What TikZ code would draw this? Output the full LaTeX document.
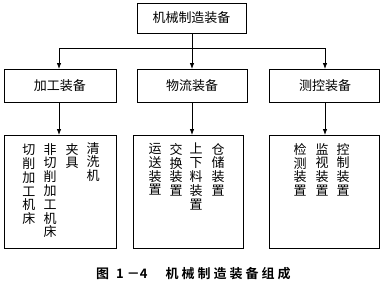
\documentclass[tikz,border=0pt]{standalone}
\usepackage{fontspec}
\newfontfamily\cjk{Noto Sans CJK SC}
\newfontfamily\cjkb{Noto Sans CJK SC Bold}
\usetikzlibrary{arrows.meta}
\newcommand{\ck}{\kern3pt}
\begin{document}
\begin{tikzpicture}[x=1pt,y=-1pt,
  box/.style={draw,line width=0.9pt,inner sep=0pt},
  lbl/.style={font=\cjk\fontsize{13}{14}\selectfont},
  vt/.style={anchor=north,inner sep=0pt,align=center,font=\cjk\fontsize{13}{13.8}\selectfont},
  arr/.style={line width=0.8pt,-{Latex[length=6pt,width=4.5pt]}},
  ln/.style={line width=0.8pt}]
\useasboundingbox (0,0) rectangle (381,287);
% top
\draw[box] (137,3) rectangle (246,33);
\node[lbl] (top) at (191.5,18) {机械制造装备};
\coordinate (tb) at (192,33);
% level 2
\draw[box] (4,69) rectangle (116,102);
\draw[box] (137,69) rectangle (247,102);
\draw[box] (269,69) rectangle (379,102);
\node[lbl] (a) at (60,86) {加工装备};
\node[lbl] (b) at (192,86) {物流装备};
\node[lbl] (c) at (325,86) {测控装备};
\coordinate (a2t) at (59,69);
\coordinate (b2t) at (192,69);
\coordinate (c2t) at (325,69);
\coordinate (a2b) at (59,102);
\coordinate (b2b) at (192,102);
\coordinate (c2b) at (325,102);
% level 3
\draw[box] (4,135) rectangle (116,248);
\draw[box] (133,135) rectangle (243,248);
\draw[box] (269,135) rectangle (379,248);
\coordinate (a3t) at (59,135);
\coordinate (b3t) at (192,135);
\coordinate (c3t) at (325,135);
% connectors
\coordinate (hl) at (59,48);
\coordinate (hr) at (325,48);
\draw[ln] (hl) -- (hr);
\draw[arr] (tb) -- (b2t);
\draw[arr] (hl) -- (a2t);
\draw[arr] (hr) -- (c2t);
\draw[arr] (a2b) -- (a3t);
\draw[arr] (b2b) -- (b3t);
\draw[arr] (c2b) -- (c3t);
% column texts
\node[vt] (a1) at (29,144) {切\\削\\加\\工\\机\\床};
\node[vt] (a2) at (50,143) {非\\切\\削\\加\\工\\机\\床};
\node[vt] (a3) at (72,143) {夹\\具};
\node[vt] (a4) at (93,142) {清\\洗\\机};
\node[vt] (b1) at (155,143) {运\\送\\装\\置};
\node[vt] (b2) at (176,143) {交\\换\\装\\置};
\node[vt] (b3) at (196,143) {上\\下\\料\\装\\置};
\node[vt] (b4) at (218,143) {仓\\储\\装\\置};
\node[vt] (c1) at (300,143) {检\\测\\装\\置};
\node[vt] (c2) at (322,143) {监\\视\\装\\置};
\node[vt] (c3) at (343,143) {控\\制\\装\\置};
% caption
\node[anchor=west,inner sep=0pt,font=\cjkb\fontsize{13}{14}\selectfont] (cap) at (96,274)
  {图\kern7pt 1\kern3pt －4\kern18pt 机\ck 械\ck 制\ck 造\ck 装\ck 备\ck 组\ck 成};
\end{tikzpicture}
\end{document}
